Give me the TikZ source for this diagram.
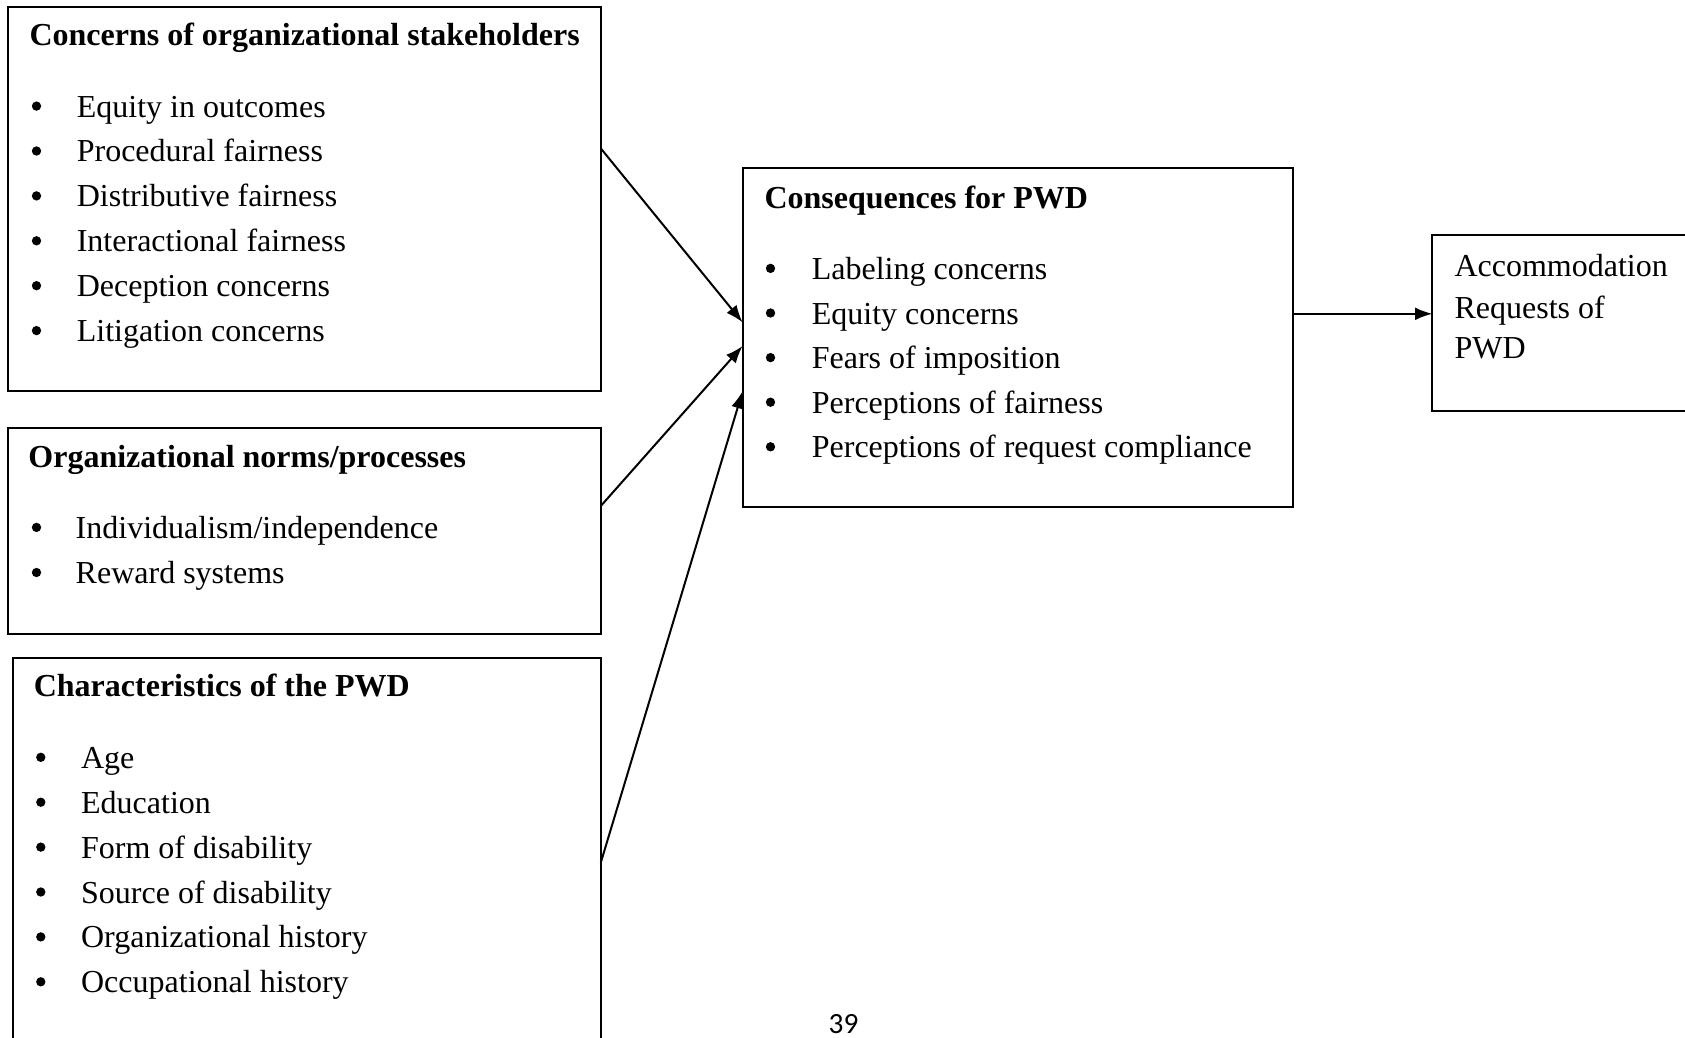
\documentclass[tikz,border=0pt]{standalone}
\usepackage{fontspec}
\setmainfont{Liberation Serif}
\newfontfamily\pgnumfont{Carlito}
\usetikzlibrary{arrows.meta,fit,calc}
\begin{document}
\begin{tikzpicture}[x=0.375pt,y=-0.375pt,
  box/.style={draw,line width=0.75pt,inner sep=0pt,outer sep=0pt},
  ttl/.style={anchor=base west,inner sep=0pt,font=\fontsize{12}{14}\selectfont\bfseries},
  itm/.style={anchor=base west,inner sep=0pt,font=\fontsize{12}{14}\selectfont},
  bul/.style={circle,fill,inner sep=0pt,minimum size=3.5pt},
  arr/.style={line width=0.75pt,-{Latex[length=6.5pt,width=4.8pt]}}]
\useasboundingbox (0,0) rectangle (1685,1037);
\clip (0,0) rectangle (1685,1037);

% boxes
\node[box,fit={(7.5,7.5)(600.7,391.2)}] (c1) {};
\node[box,fit={(7.5,427.7)(600.7,634)}] (c2) {};
\node[box,fit={(12.9,657.7)(600.7,1060)}] (c3) {};
\node[box,fit={(742.6,167.6)(1292.8,507.2)}] (pc) {};
\node[box,fit={(1432.4,235.3)(1720,410.5)}] (ac) {};

% box 1
\node[ttl] (c1t) at (29,46) {Concerns of organizational stakeholders};
\foreach \t [count=\i] in {Equity in outcomes, Procedural fairness, Distributive fairness, Interactional fairness, Deception concerns, Litigation concerns} {
  \node[bul] (c1b\i) at (36.5,{117.1+44.9*(\i-1)-11}) {};
  \node[itm] (c1i\i) at (76.3,{117.1+44.9*(\i-1)}) {\t};
}

% box 2
\node[ttl] (c2t) at (27.9,467.5) {Organizational norms/processes};
\foreach \t [count=\i] in {Individualism/independence, Reward systems} {
  \node[bul] (c2b\i) at (36.5,{538.4+45.1*(\i-1)-11}) {};
  \node[itm] (c2i\i) at (75.2,{538.4+45.1*(\i-1)}) {\t};
}

% box 3
\node[ttl] (c3t) at (33.3,696.3) {Characteristics of the PWD};
\foreach \t [count=\i] in {Age, Education, Form of disability, Source of disability, Organizational history, Occupational history} {
  \node[bul] (c3b\i) at (40.8,{768.3+44.9*(\i-1)-11}) {};
  \node[itm] (c3i\i) at (80.6,{768.3+44.9*(\i-1)}) {\t};
}

% box 4
\node[ttl] (pct) at (764,208.5) {Consequences for PWD};
\foreach \t [count=\i] in {Labeling concerns, Equity concerns, Fears of imposition, Perceptions of fairness, Perceptions of request compliance} {
  \node[bul] (pcb\i) at (770.5,{279.4+44.6*(\i-1)-11}) {};
  \node[itm] (pci\i) at (811.3,{279.4+44.6*(\i-1)}) {\t};
}

% box 5
\node[itm] (ac1) at (1454,277) {Accommodation};
\node[itm] (ac2) at (1454,318) {Requests of};
\node[itm] (ac3) at (1454,358.5) {PWD};

% connectors
\draw[arr] ($(c1.north east)+(0,140.8)$) -- ($(pc.north west)+(0,154.8)$);
\draw[arr] ($(c2.north east)+(0,78.4)$) -- ($(pc.north west)+(0,178.4)$);
\draw[arr] ($(c3.north east)+(0,205.2)$) -- ($(pc.north west)+(0,223.6)$);
\draw[arr] ($(pc.north east)+(0,146.2)$) -- ($(ac.north west)+(0,78.5)$);

% page number
\node[anchor=base,inner sep=0pt,font=\pgnumfont\fontsize{11}{13}\selectfont] (pg) at (843.6,1033) {39};
\end{tikzpicture}
\end{document}
